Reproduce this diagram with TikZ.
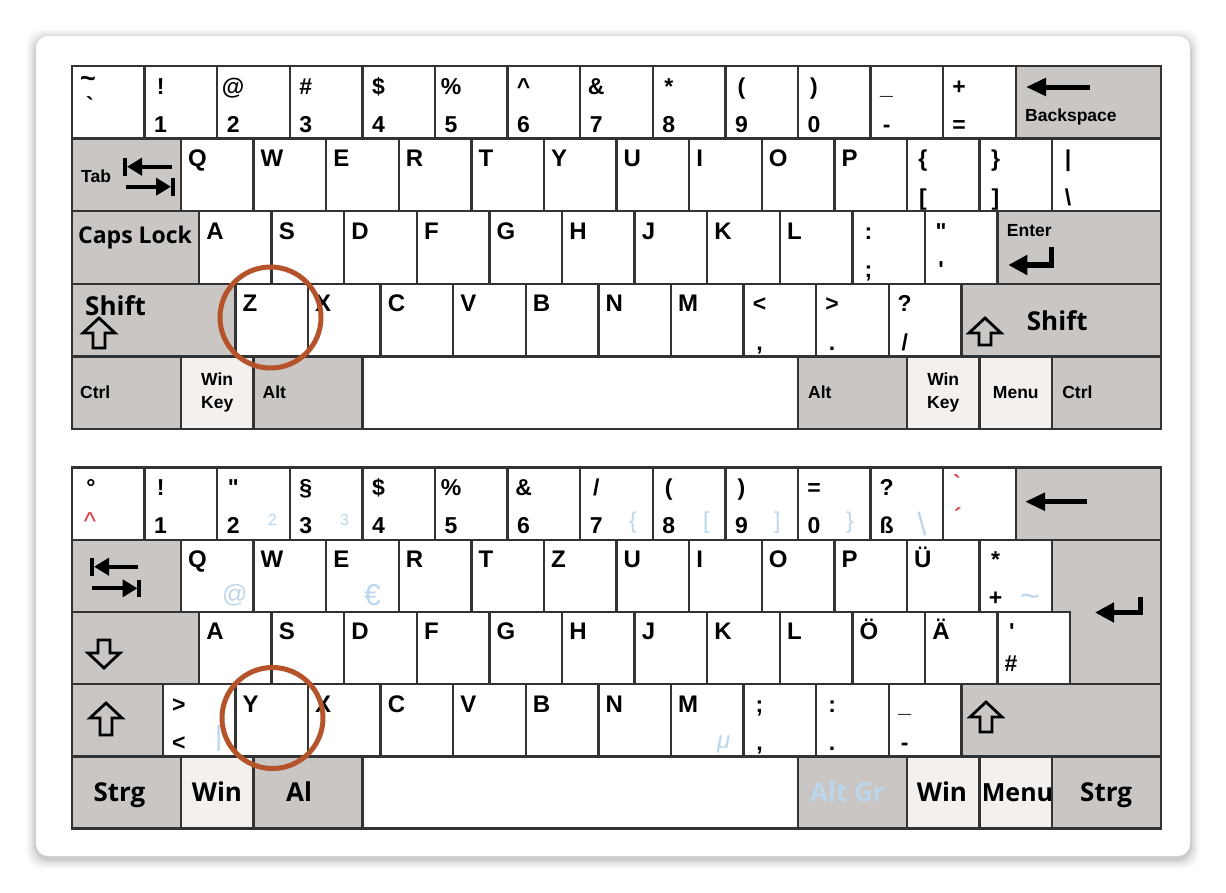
\documentclass[tikz,border=0pt]{standalone}
\usepackage{fontspec}
\setmainfont{Liberation Sans}[Ligatures=TeXOff]
\newfontfamily\osf{Open Sans}[Ligatures=TeXOff]
\usetikzlibrary{arrows.meta}
\definecolor{keygray}{HTML}{C9C6C3}
\definecolor{keylight}{HTML}{F3F0ED}
\definecolor{keyline}{HTML}{333333}
\definecolor{ringc}{HTML}{B5542B}
\definecolor{altblue}{HTML}{BCD6EC}
\definecolor{carred}{HTML}{DD3A40}
\newcommand\K[6]{\node[keybox,#6,minimum width={(#4)*72.6},minimum height=#5] (#1) at ({72+(#2)*72.6},#3) {};}
\newcommand\KL[2]{\node[lt,anchor=base west] (#1-l) at ([xshift=7pt,yshift=-28pt]#1.north west) {#2};}
\newcommand\KS[3]{\node[st,anchor=base] (#1-u) at ([xshift=16pt,yshift=-28pt]#1.north west) {#2};\node[st,anchor=base] (#1-d) at ([xshift=16pt,yshift=6pt]#1.south west) {#3};}
\newcommand\UpArrow[4]{\coordinate (#1) at (#2,#3);\draw[outarr] (#1) -- ++(16,15) -- ++(-10,0) -- ++(0,#4-15) -- ++(-12,0) -- ++(0,15-#4) -- ++(-10,0) -- cycle;}
\newcommand\DownArrow[4]{\coordinate (#1) at (#2,#3);\draw[outarr] (#1) -- ++(16,-15) -- ++(-10,0) -- ++(0,15-#4) -- ++(-12,0) -- ++(0,#4-15) -- ++(-10,0) -- cycle;}
\begin{document}
\begin{tikzpicture}[x=1pt,y=-1pt,
 keybox/.style={draw=keyline,line width=2.4pt,fill=white,anchor=north west,inner sep=0pt,outer sep=0pt},
 gk/.style={fill=keygray}, lk/.style={fill=keylight},
 lt/.style={font=\bfseries\fontsize{24}{24}\selectfont,inner sep=0pt},
 st/.style={font=\bfseries\fontsize{23}{23}\selectfont,inner sep=0pt},
 sm/.style={font=\bfseries\fontsize{17.5}{23.3}\selectfont,inner sep=0pt},
 os/.style={font=\osf\bfseries\fontsize{26}{26}\selectfont,inner sep=0pt},
 ab/.style={text=altblue,inner sep=0pt},
 arr/.style={line width=5pt,-{Triangle[length=20pt,width=17pt]}},
 entarr/.style={line width=5.5pt,line join=miter,-{Triangle[length=19pt,width=19pt]}},
 tabarr/.style={line width=4pt,-{Triangle[length=15pt,width=17pt]}},
 tabbar/.style={line width=4pt},
 outarr/.style={draw=black,line width=2.8pt,line join=miter},
 ring/.style={circle,draw=ringc,line width=5pt,minimum size=101pt,inner sep=0pt}]
\useasboundingbox (0,0) rectangle (1226,892);
\fill[white] (0,0) rectangle (1226,892);
% card with soft shadow
\foreach \s/\o in {10/0.02,8/0.03,6/0.04,4/0.05,2/0.07}
  \fill[black,opacity=\o,rounded corners=16] (36-\s,36-\s+3) rectangle (1190+\s,856+\s+3);
\fill[white,rounded corners=12] (36,36) rectangle (1190,856);

%================ TOP KEYBOARD =================
% row 1
\K{t00}{0}{66}{1}{72.6}{}
\node[font=\bfseries\fontsize{27}{27}\selectfont,inner sep=0pt,anchor=north west] (t00-u) at (80,76) {\textasciitilde};
\node[st,anchor=north west] (t00-d) at (86,96) {`};
\K{t01}{1}{66}{1}{72.6}{}\KS{t01}{!}{1}
\K{t02}{2}{66}{1}{72.6}{}\KS{t02}{@}{2}
\K{t03}{3}{66}{1}{72.6}{}\KS{t03}{\#}{3}
\K{t04}{4}{66}{1}{72.6}{}\KS{t04}{\$}{4}
\K{t05}{5}{66}{1}{72.6}{}\KS{t05}{\%}{5}
\K{t06}{6}{66}{1}{72.6}{}\KS{t06}{\textasciicircum}{6}
\K{t07}{7}{66}{1}{72.6}{}\KS{t07}{\&}{7}
\K{t08}{8}{66}{1}{72.6}{}\KS{t08}{*}{8}
\K{t09}{9}{66}{1}{72.6}{}\KS{t09}{(}{9}
\K{t10}{10}{66}{1}{72.6}{}\KS{t10}{)}{0}
\K{t11}{11}{66}{1}{72.6}{}\KS{t11}{\_}{-}
\K{t12}{12}{66}{1}{72.6}{}\KS{t12}{+}{=}
\K{t13}{13}{66}{2}{72.6}{gk}
\coordinate (t13a) at (1090,87); \coordinate (t13b) at (1026,87);
\draw[arr] (t13a) -- (t13b);
\node[sm,anchor=base west] (t13-l) at (1025,121.7) {Backspace};
% row 2
\K{tTab}{0}{138.6}{1.5}{72.6}{gk}
\node[sm,anchor=west] (tTab-l) at (81,176.5) {Tab};
\coordinate (tt1) at (172,166.7); \coordinate (tt2) at (127,166.7);
\coordinate (tt3) at (126,186.7); \coordinate (tt4) at (171,186.7);
\draw[tabarr] (tt1) -- (tt2); \draw[tabbar] (125,157.5) -- (125,175.5);
\draw[tabarr] (tt3) -- (tt4); \draw[tabbar] (172.7,177.5) -- (172.7,195.5);
\foreach \l [count=\i from 0] in {Q,W,E,R,T,Y,U,I,O,P}{\K{tq\i}{1.5+\i}{138.6}{1}{72.6}{}\KL{tq\i}{\l}}
\K{tLB}{11.5}{138.6}{1}{72.6}{}\KS{tLB}{\{}{[}
\K{tRB}{12.5}{138.6}{1}{72.6}{}\KS{tRB}{\}}{]}
\K{tBSl}{13.5}{138.6}{1.5}{72.6}{}\KS{tBSl}{|}{\textbackslash}
% row 3
\K{tCaps}{0}{211.2}{1.75}{72.6}{gk}
\node[font=\osf\bfseries\fontsize{23}{23}\selectfont,inner sep=0pt,anchor=base west] (tCaps-l) at (78,243.5) {Caps Lock};
\foreach \l [count=\i from 0] in {A,S,D,F,G,H,J,K,L}{\K{ta\i}{1.75+\i}{211.2}{1}{72.6}{}\KL{ta\i}{\l}}
\K{tSC}{10.75}{211.2}{1}{72.6}{}\KS{tSC}{:}{;}
\K{tQT}{11.75}{211.2}{1}{72.6}{}\KS{tQT}{"}{'}
\K{tEnt}{12.75}{211.2}{2.25}{72.6}{gk}
\node[sm,anchor=base west] (tEnt-l) at (1006.7,236.7) {Enter};
\coordinate (te1) at (1051.5,247); \coordinate (te2) at (1051.5,265); \coordinate (te3) at (1008.3,265);
\draw[entarr] (te1) -- (te2) -- (te3);
% row 4
\K{tLS}{0}{283.8}{2.25}{72.6}{gk}
\node[os,anchor=base west] (tLS-l) at (85,315) {Shift};
\UpArrow{tLSa}{99}{318}{30}
\foreach \l [count=\i from 0] in {Z,X,C,V,B,N,M}{\K{tz\i}{2.25+\i}{283.8}{1}{72.6}{}\KL{tz\i}{\l}}
\K{tCM}{9.25}{283.8}{1}{72.6}{}\KS{tCM}{<}{,}
\K{tPD}{10.25}{283.8}{1}{72.6}{}\KS{tPD}{>}{.}
\K{tSL}{11.25}{283.8}{1}{72.6}{}\KS{tSL}{?}{/}
\K{tRS}{12.25}{283.8}{2.75}{72.6}{gk}
\node[os,anchor=base west] (tRS-l) at (1026.7,330) {Shift};
\UpArrow{tRSa}{985}{318}{27}
% row 5
\K{tCtl}{0}{356.4}{1.5}{72.6}{gk}\node[sm,anchor=west] (tCtl-l) at ([xshift=8pt]tCtl.west) {Ctrl};
\K{tWin}{1.5}{356.4}{1}{72.6}{lk}\node[sm,align=center] (tWin-l) at (tWin.center) {Win\\Key};
\K{tAlt}{2.5}{356.4}{1.5}{72.6}{gk}\node[sm,anchor=west] (tAlt-l) at ([xshift=9pt]tAlt.west) {Alt};
\K{tSpc}{4}{356.4}{6}{72.6}{}
\K{tAltR}{10}{356.4}{1.5}{72.6}{gk}\node[sm,anchor=west] (tAltR-l) at ([xshift=10pt]tAltR.west) {Alt};
\K{tWinR}{11.5}{356.4}{1}{72.6}{lk}\node[sm,align=center] (tWinR-l) at (tWinR.center) {Win\\Key};
\K{tMenu}{12.5}{356.4}{1}{72.6}{lk}\node[sm] (tMenu-l) at (tMenu.center) {Menu};
\K{tCtlR}{13.5}{356.4}{1.5}{72.6}{gk}\node[sm,anchor=west] (tCtlR-l) at ([xshift=10pt]tCtlR.west) {Ctrl};

%================ BOTTOM KEYBOARD =================
% row 1
\K{b00}{0}{467.5}{1}{72.2}{}
\node[st,anchor=base] (b00-u) at (91,495.5) {°};
\node[font=\fontsize{26}{26}\selectfont,text=carred,inner sep=0pt,anchor=base] (b00-d) at (90,530.5) {\textasciicircum};
\K{b01}{1}{467.5}{1}{72.2}{}\KS{b01}{!}{1}
\K{b02}{2}{467.5}{1}{72.2}{}\KS{b02}{"}{2}
\node[ab,font=\fontsize{16}{16}\selectfont,anchor=base west] (b02-a) at (268,525.5) {2};
\K{b03}{3}{467.5}{1}{72.2}{}\KS{b03}{§}{3}
\node[ab,font=\fontsize{16}{16}\selectfont,anchor=base west] (b03-a) at (340,525.5) {3};
\K{b04}{4}{467.5}{1}{72.2}{}\KS{b04}{\$}{4}
\K{b05}{5}{467.5}{1}{72.2}{}\KS{b05}{\%}{5}
\K{b06}{6}{467.5}{1}{72.2}{}\KS{b06}{\&}{6}
\K{b07}{7}{467.5}{1}{72.2}{}\KS{b07}{/}{7}
\node[ab,font=\fontsize{23}{23}\selectfont,anchor=base west] (b07-a) at (629,528.5) {\{};
\K{b08}{8}{467.5}{1}{72.2}{}\KS{b08}{(}{8}
\node[ab,font=\fontsize{23}{23}\selectfont,anchor=base west] (b08-a) at (703,528.5) {[};
\K{b09}{9}{467.5}{1}{72.2}{}\KS{b09}{)}{9}
\node[ab,font=\fontsize{23}{23}\selectfont,anchor=base west] (b09-a) at (774,528.5) {]};
\K{b10}{10}{467.5}{1}{72.2}{}\KS{b10}{=}{0}
\node[ab,font=\fontsize{23}{23}\selectfont,anchor=base west] (b10-a) at (846,528.5) {\}};
\K{b11}{11}{467.5}{1}{72.2}{}\KS{b11}{?}{ß}
\node[ab,font=\fontsize{32}{32}\selectfont,anchor=base west] (b11-a) at (917.5,535) {\textbackslash};
\K{b12}{12}{467.5}{1}{72.2}{}
\node[st,text=carred,anchor=base west] (b12-u) at (953,491) {`};
\node[st,text=carred,anchor=base west] (b12-d) at (954,524.5) {´};
\K{b13}{13}{467.5}{2}{72.2}{gk}
\coordinate (b13a) at (1087,501.7); \coordinate (b13b) at (1025,501.7);
\draw[arr] (b13a) -- (b13b);
% row 2
\K{bTab}{0}{539.7}{1.5}{72.2}{gk}
\coordinate (bt1) at (138.3,566.7); \coordinate (bt2) at (94,566.7);
\coordinate (bt3) at (92,588.3); \coordinate (bt4) at (137.5,588.3);
\draw[tabarr] (bt1) -- (bt2); \draw[tabbar] (91.7,557.5) -- (91.7,575.5);
\draw[tabarr] (bt3) -- (bt4); \draw[tabbar] (139.3,579.5) -- (139.3,597);
\foreach \l [count=\i from 0] in {Q,W,E,R,T,Z,U,I,O,P,Ü}{\K{bq\i}{1.5+\i}{539.7}{1}{72.2}{}\KL{bq\i}{\l}}
\node[ab,font=\fontsize{25}{25}\selectfont,anchor=base west] (bq0-a) at (222,602.5) {@};
\node[ab,font=\fontsize{30}{30}\selectfont,anchor=base west] (bq2-a) at (364,605) {€};
\K{bPL}{12.5}{539.7}{1}{72.2}{}\KS{bPL}{*}{+}
\node[ab,font=\fontsize{34}{34}\selectfont,anchor=base west] (bPL-a) at (1020,607) {\textasciitilde};
% ISO enter
\draw[draw=keyline,line width=2.4pt,fill=keygray] (1052.1,539.7) -- (1161,539.7) -- (1161,684.1) -- (1070.25,684.1) -- (1070.25,611.9) -- (1052.1,611.9) -- cycle;
\coordinate (be1) at (1140.7,596.7); \coordinate (be2) at (1140.7,612.5); \coordinate (be3) at (1095,612.5);
\draw[entarr] (be1) -- (be2) -- (be3);
% row 3
\K{bCaps}{0}{611.9}{1.75}{72.2}{gk}
\DownArrow{bCapsA}{104}{668}{28}
\foreach \l [count=\i from 0] in {A,S,D,F,G,H,J,K,L,Ö,Ä}{\K{ba\i}{1.75+\i}{611.9}{1}{72.2}{}\KL{ba\i}{\l}}
\K{bHS}{12.75}{611.9}{1}{72.2}{}
\node[st,anchor=base west] (bHS-u) at (1009,639.9) {'};
\node[st,anchor=base west] (bHS-d) at (1004.5,671.5) {\#};
% row 4
\K{bLS}{0}{684.1}{1.25}{72.2}{gk}
\UpArrow{bLSa}{106}{703}{32}
\K{bLT}{1.25}{684.1}{1}{72.2}{}\KS{bLT}{>}{<}
\node[ab,font=\fontsize{28}{28}\selectfont,anchor=base west] (bLT-a) at (215,745.8) {|};
\foreach \l [count=\i from 0] in {Y,X,C,V,B,N,M}{\K{bz\i}{2.25+\i}{684.1}{1}{72.2}{}\KL{bz\i}{\l}}
\node[ab,font=\itshape\fontsize{24}{24}\selectfont,anchor=base west] (bz6-a) at (717,748) {μ};
\K{bCM}{9.25}{684.1}{1}{72.2}{}\KS{bCM}{;}{,}
\K{bPD}{10.25}{684.1}{1}{72.2}{}\KS{bPD}{:}{.}
\K{bMI}{11.25}{684.1}{1}{72.2}{}\KS{bMI}{\_}{-}
\K{bRS}{12.25}{684.1}{2.75}{72.2}{gk}
\UpArrow{bRSa}{986}{702}{30}
% row 5
\K{bCtl}{0}{756.3}{1.5}{72.2}{gk}\node[os,anchor=base west] (bCtl-l) at (93.3,801.7) {Strg};
\K{bWin}{1.5}{756.3}{1}{72.2}{lk}\node[os,anchor=base west] (bWin-l) at (191.7,801.7) {Win};
\K{bAlt}{2.5}{756.3}{1.5}{72.2}{gk}\node[os,anchor=base west] (bAlt-l) at (286,801.7) {Al};
\K{bSpc}{4}{756.3}{6}{72.2}{}
\K{bAltR}{10}{756.3}{1.5}{72.2}{gk}\node[os,text=altblue,anchor=base west] (bAltR-l) at (810,801.7) {Alt Gr};
\K{bWinR}{11.5}{756.3}{1}{72.2}{lk}\node[os,anchor=base west] (bWinR-l) at (916.7,801.7) {Win};
\K{bMenu}{12.5}{756.3}{1}{72.2}{lk}\node[os,font=\osf\bfseries\fontsize{25}{25}\selectfont,anchor=base west] (bMenu-l) at (981.7,801.7) {Menu};
\K{bCtlR}{13.5}{756.3}{1.5}{72.2}{gk}\node[os,anchor=base west] (bCtlR-l) at (1080,801.7) {Strg};

% highlight rings
\node[ring] (ringTop) at (270.5,317.5) {};
\node[ring] (ringBot) at (272.5,718) {};
\end{tikzpicture}
\end{document}
